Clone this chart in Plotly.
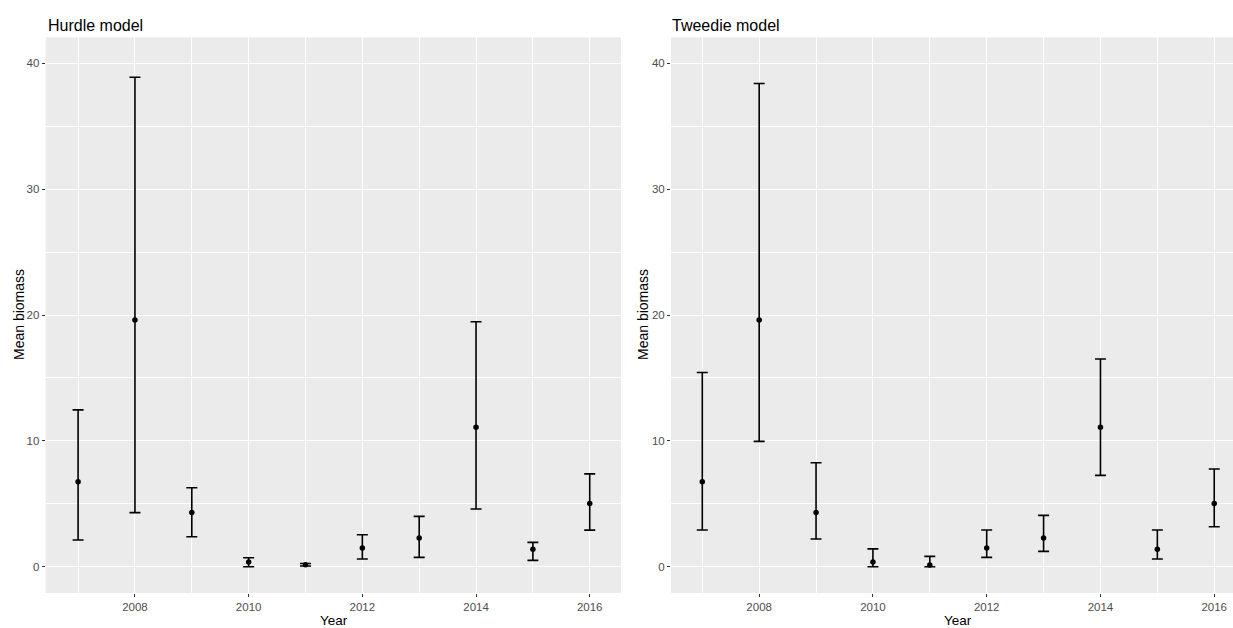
import plotly.graph_objects as go

years = [2007, 2008, 2009, 2010, 2011, 2012, 2013, 2014, 2015, 2016]

hurdle_mean = [6.75, 19.6, 4.3, 0.37, 0.15, 1.48, 2.28, 11.09, 1.38, 5.03]
hurdle_lower = [2.12, 4.3, 2.38, 0.0, 0.05, 0.61, 0.74, 4.58, 0.5, 2.91]
hurdle_upper = [12.46, 38.9, 6.27, 0.71, 0.25, 2.54, 4.0, 19.47, 1.93, 7.38]

tweedie_mean = [6.75, 19.6, 4.3, 0.37, 0.14, 1.48, 2.28, 11.09, 1.38, 5.03]
tweedie_lower = [2.92, 9.96, 2.2, 0.0, 0.0, 0.74, 1.22, 7.26, 0.61, 3.18]
tweedie_upper = [15.43, 38.4, 8.26, 1.42, 0.82, 2.92, 4.08, 16.5, 2.92, 7.76]

panel_titles = ["Hurdle model", "Tweedie model"]
x_title = "Year"
y_title = "Mean biomass"
y_ticks = [0, 10, 20, 30, 40]

W, H = 1233, 628
FONT = "Liberation Sans, Arial, sans-serif"
PANEL_BG = "#EBEBEB"


def px_x(p):
    return p / W


def px_y(p):
    return 1 - p / H


fig = go.Figure()


def add_panel(mean, lower, upper, xa, ya):
    fig.add_trace(go.Scatter(
        x=years, y=mean, mode="markers",
        marker=dict(color="black", size=5.5),
        error_y=dict(type="data", symmetric=False,
                     array=[u - m for u, m in zip(upper, mean)],
                     arrayminus=[m - l for m, l in zip(mean, lower)],
                     color="black", thickness=1.6, width=5.5),
        xaxis=xa, yaxis=ya, showlegend=False, hoverinfo="x+y",
    ))


add_panel(hurdle_mean, hurdle_lower, hurdle_upper, "x", "y")
add_panel(tweedie_mean, tweedie_lower, tweedie_upper, "x2", "y2")

ydom = [px_y(593), px_y(37.3)]
yr = [-2.09, 42.07]

common_x = dict(
    tickmode="linear", tick0=2008, dtick=2,
    showgrid=True, gridcolor="white", gridwidth=1.3,
    minor=dict(tick0=2007, dtick=2, showgrid=True, gridcolor="white", gridwidth=1.0),
    zeroline=False, showline=False,
    ticks="outside", ticklen=3, tickwidth=1, tickcolor="#333333",
    tickfont=dict(family=FONT, size=11.5, color="#4D4D4D"),
    fixedrange=True,
)
common_y = dict(
    tickmode="array", tickvals=y_ticks, ticktext=[str(v) for v in y_ticks],
    range=yr, domain=ydom,
    showgrid=True, gridcolor="white", gridwidth=1.3,
    minor=dict(tickvals=[5, 15, 25, 35], showgrid=True, gridcolor="white", gridwidth=1.0),
    zeroline=False, showline=False,
    ticks="outside", ticklen=3, tickwidth=1, tickcolor="#333333",
    tickfont=dict(family=FONT, size=11.5, color="#4D4D4D"),
    fixedrange=True,
)

x1_dom = [px_x(45.7), px_x(621)]
x2_dom = [px_x(671), 1.0]

fig.update_layout(
    width=W, height=H,
    margin=dict(l=0, r=0, t=0, b=0),
    paper_bgcolor="white",
    plot_bgcolor=PANEL_BG,
    xaxis=dict(common_x, domain=x1_dom, range=[2006.43, 2016.55], anchor="y"),
    yaxis=dict(common_y, anchor="x"),
    xaxis2=dict(common_x, domain=x2_dom, range=[2006.45, 2016.33], anchor="y2"),
    yaxis2=dict(common_y, anchor="x2"),
)

annotations = [
    dict(text=panel_titles[0], x=px_x(45.5), y=px_y(25), xanchor="left", yanchor="middle",
         font=dict(family=FONT, size=16, color="black")),
    dict(text=panel_titles[1], x=px_x(670.5), y=px_y(25), xanchor="left", yanchor="middle",
         font=dict(family=FONT, size=16, color="black")),
    dict(text=x_title, x=px_x(333.5), y=px_y(620), xanchor="center", yanchor="middle",
         font=dict(family=FONT, size=13.5, color="black")),
    dict(text=x_title, x=px_x(958), y=px_y(620), xanchor="center", yanchor="middle",
         font=dict(family=FONT, size=13.5, color="black")),
    dict(text=y_title, x=px_x(19), y=px_y(315), xanchor="center", yanchor="middle",
         textangle=-90, font=dict(family=FONT, size=14, color="black")),
    dict(text=y_title, x=px_x(643), y=px_y(315), xanchor="center", yanchor="middle",
         textangle=-90, font=dict(family=FONT, size=14, color="black")),
]
for a in annotations:
    a.update(xref="paper", yref="paper", showarrow=False)
fig.update_layout(annotations=annotations)

fig.write_html("out.html")
